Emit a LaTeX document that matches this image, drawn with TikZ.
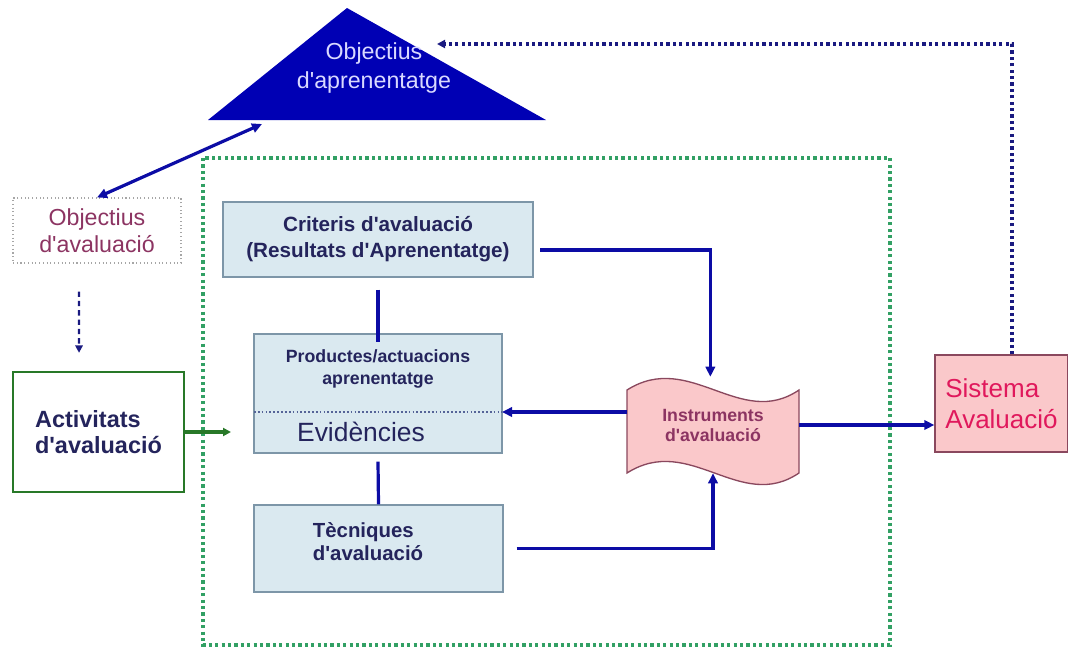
\documentclass[tikz,border=0pt]{standalone}
\usepackage{fontspec}
\setmainfont{Liberation Sans}
\usetikzlibrary{arrows.meta}
\definecolor{arrblue}{RGB}{12,12,165}
\definecolor{triblue}{RGB}{0,0,180}
\definecolor{boxfill}{RGB}{218,233,240}
\definecolor{boxedge}{RGB}{125,150,168}
\definecolor{navytxt}{RGB}{36,36,92}
\definecolor{purptxt}{RGB}{140,52,98}
\definecolor{pinkfill}{RGB}{250,200,202}
\definecolor{pinkedge}{RGB}{138,72,94}
\definecolor{crimson}{RGB}{224,24,92}
\definecolor{actgreen}{RGB}{40,120,40}
\definecolor{framegreen}{RGB}{50,160,100}
\definecolor{dotnavy}{RGB}{26,26,128}
\newcommand{\ap}{\textquotesingle}
\begin{document}
\begin{tikzpicture}[x=0.75pt, y=-0.75pt,
    blaubox/.style={draw=boxedge, fill=boxfill, line width=1pt, inner sep=0pt},
    rosabox/.style={draw=pinkedge, fill=pinkfill, line width=1pt},
    fletxa/.style={draw=arrblue, line width=2.4pt, -{Triangle[length=7.5pt,width=7pt]}},
    ratlla/.style={draw=arrblue, line width=2.4pt},
    puntets/.style={line width=2.6pt, dash pattern=on 2.4pt off 2.4pt}]
  \useasboundingbox (0,0) rectangle (1068,647);
  %
  \draw[puntets, framegreen] (203,158) rectangle (890,645);   % frame
  %
  \fill[triblue] (347,8) -- (546,120) -- (208,120) -- cycle;  % triangle
  \node[text=white!85!blue, align=center, font=\fontsize{17.4}{22}\selectfont] (objapr) at (374,68) {Objectius\\d\ap aprenentatge};
  \coordinate (tribase) at (262,124);
  \coordinate (trient) at (437,44);
  %
  \node[draw=gray!70, dotted, line width=0.8pt, minimum width=126pt, minimum height=48.75pt, inner sep=0pt,
        text=purptxt, align=center, font=\fontsize{17.4}{20}\selectfont] (objav) at (97,230.5) {Objectius\\d\ap avaluació};
  \node[draw=actgreen, line width=1.8pt, minimum width=128.25pt, minimum height=90pt, inner sep=0pt,
        text=navytxt, align=left, font=\bfseries\fontsize{17.6}{20}\selectfont] (activ) at (98.5,432) {Activitats\\d\ap avaluació};
  \coordinate (actin) at (231,432);
  %
  \node[blaubox, minimum width=232.5pt, minimum height=56.25pt, text=navytxt, align=center,
        font=\bfseries\fontsize{15.5}{19.5}\selectfont] (crit) at (378,239.5) {Criteris d\ap avaluació\\(Resultats d\ap Aprenentatge)};
  \node[blaubox, minimum width=186pt, minimum height=89.25pt] (prod) at (378,393.5) {};
  \node[text=navytxt, align=center, font=\bfseries\fontsize{13.3}{16.5}\selectfont] (prodtxt) at (378,369) {Productes/actuacions\\aprenentatge};
  \node[text=navytxt, font=\fontsize{19.8}{22}\selectfont] (evid) at (361,432) {Evidències};
  \coordinate (evl) at (254,412);
  \coordinate (evr) at (502,412);
  \node[blaubox, minimum width=186.75pt, minimum height=65.25pt] (tec) at (378.5,548.5) {};
  \node[text=navytxt, align=left, font=\bfseries\fontsize{15.3}{17.2}\selectfont] (tectxt) at (368,542) {Tècniques\\d\ap avaluació};
  %
  \draw[rosabox] (627,390) .. controls (690,350) and (740,430) .. (799,390)   % instruments
    -- (799,473) .. controls (740,513) and (690,433) .. (627,473) -- cycle;
  \node[minimum width=129pt, minimum height=72pt, inner sep=0pt, text=purptxt, align=center,
        font=\bfseries\fontsize{13.3}{15}\selectfont] (instr) at (713,425) {Instruments\\d\ap avaluació};
  %
  \node[rosabox, minimum width=99.75pt, minimum height=72.75pt, inner sep=0pt, text=crimson, align=left,
        font=\fontsize{19.5}{23}\selectfont] (sist) at (1001.5,403.5) {Sistema\\Avaluació};
  %
  \draw[line width=1.3pt, dash pattern=on 1.3pt off 1.6pt, boxedge!60!dotnavy] (evl) -- (evr);      % divider
  %
  \draw[ratlla, {Triangle[length=7.5pt,width=7pt]}-{Triangle[length=7.5pt,width=7pt]}] (objav.north) -- (tribase);
  \draw[draw=dotnavy, line width=1.8pt, dash pattern=on 4pt off 3pt, -{Triangle[length=5.5pt,width=5.5pt]}]
    ([xshift=-13.5pt,yshift=-21pt]objav.south) -- ([xshift=-14.6pt,yshift=13.5pt]activ.north);
  \draw[draw=actgreen, line width=2.4pt, -{Triangle[length=6pt,width=6pt]}] (activ.east) -- (actin);
  %
  \draw[ratlla] ([yshift=-9pt]crit.south) -- ([yshift=-6.5pt]prod.north);    % cols
  \draw[ratlla] ([yshift=-6pt]prod.south) -- (tec.north);
  %
  \draw[fletxa] ([xshift=5pt,yshift=-7.9pt]crit.east) -| ([xshift=-2pt]instr.north);
  \draw[fletxa] ([xshift=9.7pt]tec.east) -| (instr.south);
  \draw[fletxa] (instr.west |- evr) -- (evr);
  \draw[fletxa] (instr.east) -- (instr.east -| sist.west);
  %
  \draw[puntets, dotnavy, -{Triangle[length=6pt,width=6pt]}] ([xshift=7.9pt]sist.north) |- (trient);
\end{tikzpicture}
\end{document}
